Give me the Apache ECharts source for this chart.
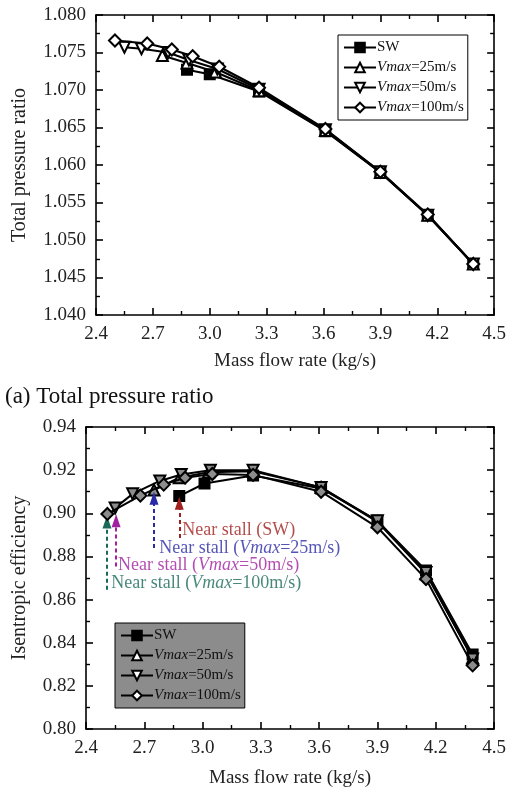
<!DOCTYPE html>
<html><head><meta charset="utf-8">
<script src="https://cdn.jsdelivr.net/npm/echarts@6/dist/echarts.min.js"></script>
<style>html,body{margin:0;padding:0;background:#fff}#c{width:509px;height:789px}</style>
</head><body><div id="c"></div>
<script>
// ---- Data ----
const seriesNames = ['SW', 'Vmax=25m/s', 'Vmax=50m/s', 'Vmax=100m/s'];
// (a) Total pressure ratio  [mass flow, ratio]
const prSW   = [[2.88,1.0727],[3.00,1.0721],[3.26,1.0698],[3.61,1.0645],[3.90,1.0590],[4.15,1.0533],[4.39,1.0468]];
const prV25  = [[2.75,1.0746],[2.88,1.0736],[3.03,1.0724],[3.26,1.0699],[3.61,1.0646],[3.90,1.0590],[4.15,1.0533],[4.39,1.0468]];
const prV50  = [[2.55,1.0757],[2.64,1.0755],[2.78,1.0750],[2.89,1.0740],[3.04,1.0728],[3.26,1.0701],[3.61,1.0647],[3.90,1.0591],[4.15,1.0533],[4.39,1.0468]];
const prV100 = [[2.50,1.0766],[2.67,1.0762],[2.80,1.0754],[2.91,1.0745],[3.05,1.0731],[3.26,1.0703],[3.61,1.0648],[3.90,1.0591],[4.15,1.0534],[4.39,1.0468]];
// (b) Isentropic efficiency
const efSW   = [[2.88,0.9080],[3.01,0.9138],[3.26,0.9175],[3.61,0.9115],[3.90,0.8965],[4.15,0.8735],[4.39,0.8345]];
const efV25  = [[2.75,0.9108],[2.88,0.9165],[3.03,0.9190],[3.26,0.9195],[3.61,0.9120],[3.90,0.8960],[4.15,0.8720],[4.39,0.8330]];
const efV50  = [[2.55,0.9025],[2.64,0.9090],[2.78,0.9150],[2.89,0.9180],[3.04,0.9200],[3.26,0.9200],[3.61,0.9120],[3.90,0.8965],[4.15,0.8725],[4.39,0.8325]];
const efV100 = [[2.51,0.8997],[2.68,0.9082],[2.80,0.9133],[2.91,0.9165],[3.05,0.9182],[3.26,0.9178],[3.61,0.9100],[3.90,0.8935],[4.15,0.8695],[4.39,0.8295]];
// Near-stall annotations (data coords)
const stallLabels = ['SW', 'Vmax=25m/s', 'Vmax=50m/s', 'Vmax=100m/s'];
const stallX      = [2.88, 2.75, 2.555, 2.508];
const arrowFromY  = [0.8885, 0.8839, 0.8753, 0.8645];
const arrowToY    = [0.9047, 0.9070, 0.8965, 0.8960];
const noteX       = [2.895, 2.777, 2.565, 2.530];
const noteY       = [0.8922, 0.8839, 0.8760, 0.8677];
const stallColors = ['#a0201e', '#2a2aa8', '#a020a0', '#1a6a5a'];
// axis tick settings
const xMin = 2.4, xMax = 4.5, xInt = 0.3;
const prMin = 1.040, prMax = 1.080, prInt = 0.005;
const efMin = 0.80, efMax = 0.94, efInt = 0.02;

const FONT = "'Liberation Serif','Times New Roman',serif";
const chart = echarts.init(document.getElementById('c'), null, {renderer:'canvas'});

function axisCommon(showLabel){
  return {
    axisLine:{show:true, onZero:false, lineStyle:{color:'#000', width:1.6}},
    axisTick:{show:true, inside:true, length:7, lineStyle:{color:'#000', width:1.6}},
    minorTick:{show:true, splitNumber:2, length:4, lineStyle:{color:'#000', width:1.4}},
    splitLine:{show:false},
    axisLabel:{show:showLabel, color:'#222', fontFamily:FONT, fontSize:19, margin:10},
  };
}
function xAx(grid, pos, showLabel, gap){
  const a = axisCommon(showLabel);
  return Object.assign(a, {type:'value', gridIndex:grid, position:pos, min:xMin, max:xMax, interval:xInt,
    name: showLabel ? 'Mass flow rate (kg/s)' : '', nameLocation:'middle', nameGap:gap,
    nameTextStyle:{fontFamily:FONT, fontSize:19, color:'#222'},
    axisLabel:Object.assign(a.axisLabel,{formatter:v=>v.toFixed(1)})});
}
function yAx(grid, pos, showLabel, mn, mx, iv, dec, name, gap){
  const a = axisCommon(showLabel);
  return Object.assign(a, {type:'value', gridIndex:grid, position:pos, min:mn, max:mx, interval:iv,
    name: showLabel ? name : '', nameLocation:'middle', nameGap:gap, nameRotate:90,
    nameTextStyle:{fontFamily:FONT, fontSize:20, color:'#222'},
    axisLabel:Object.assign(a.axisLabel,{formatter:v=>v.toFixed(dec)})});
}

const symbols = ['rect','triangle','triangle','diamond'];
const rotates = [0,0,180,0];
const sizes = [10,11,11,12];
function mkSeries(data, i, grid, fill){
  return {
    type:'line', name:seriesNames[i], data:data, xAxisIndex:grid*2, yAxisIndex:grid*2,
    symbol:symbols[i], symbolRotate:rotates[i], symbolSize:sizes[i], showAllSymbol:true,
    lineStyle:{color:'#000', width:2},
    itemStyle:{color: i===0 ? '#000' : fill, borderColor:'#000', borderWidth:2},
    z: 2+i, animation:false
  };
}

function legendFmt(name){
  if (name.indexOf('Vmax') === 0) return '{i|Vmax}{n|' + name.slice(4) + '}';
  return '{n|' + name + '}';
}
const legendRich = {
  n:{fontFamily:FONT, fontSize:15, color:'#111'},
  i:{fontFamily:FONT, fontSize:15, fontStyle:'italic', color:'#111'}
};
function legend(grid, left, top, bg){
  return {
    show:true, orient:'vertical', left:left, top:top, itemWidth:32, itemHeight:12, itemGap:5,
    padding:[5,4,5,5], backgroundColor:bg, borderColor:'#000', borderWidth:1, borderRadius:0,
    data: seriesNames.map((n,i)=>({name:n, itemStyle:{color: i===0 ? '#000' : '#fff', borderColor:'#000', borderWidth:2}})),
    formatter:legendFmt, textStyle:{rich:legendRich, padding:[0,0,0,-4]}, selectedMode:false
  };
}

// annotation series
const arrowData = stallX.map((x,i)=>[{coord:[x, arrowFromY[i]], lineStyle:{color:stallColors[i]}, itemStyle:{color:stallColors[i]}},
                                     {coord:[x, arrowToY[i]]}]);
const noteData = noteX.map((x,i)=>{
  const lab = stallLabels[i];
  const txt = lab.indexOf('Vmax')===0 ? '{n|Near stall (}{i|Vmax}{n|' + lab.slice(4) + ')}' : '{n|Near stall (' + lab + ')}';
  return {value:[x, noteY[i]], label:{show:true, position:'right', distance:0, formatter:txt,
    rich:{n:{fontFamily:FONT, fontSize:18, color:stallColors[i]}, i:{fontFamily:FONT, fontSize:18, fontStyle:'italic', color:stallColors[i]}}}};
});

const option = {
  backgroundColor:'#fff',
  animation:false,
  grid:[
    {left:96, top:15, width:403, height:300},
    {left:86, top:427, width:408, height:302}
  ],
  xAxis:[ xAx(0,'bottom',true,37), xAx(0,'top',false,0), xAx(1,'bottom',true,40), xAx(1,'top',false,0) ],
  yAxis:[ yAx(0,'left',true,prMin,prMax,prInt,3,'Total pressure ratio',66),
          yAx(0,'right',false,prMin,prMax,prInt,3,'',0),
          yAx(1,'left',true,efMin,efMax,efInt,2,'Isentropic efficiency',56),
          yAx(1,'right',false,efMin,efMax,efInt,2,'',0) ],
  legend:[ legend(0, 338, 35, '#fff'), legend(1, 115, 623, '#8c8c8c') ],
  graphic:[{type:'text', left:5, top:385, style:{text:'(a) Total pressure ratio', font:'23px ' + FONT, fill:'#111'}}],
  series:[
    mkSeries(prSW,0,0,'#fff'), mkSeries(prV25,1,0,'#fff'), mkSeries(prV50,2,0,'#fff'), mkSeries(prV100,3,0,'#fff'),
    mkSeries(efSW,0,1,'#8c8c8c'), mkSeries(efV25,1,1,'#8c8c8c'), mkSeries(efV50,2,1,'#8c8c8c'), mkSeries(efV100,3,1,'#8c8c8c'),
    {type:'scatter', name:'notes', xAxisIndex:2, yAxisIndex:2, symbolSize:0, data:noteData, z:10, silent:true,
     markLine:{silent:true, symbol:['none','triangle'], symbolSize:[9,13], label:{show:false},
       lineStyle:{type:[4,3], width:2}, data:arrowData, animation:false}}
  ]
};
chart.setOption(option);
</script></body></html>
